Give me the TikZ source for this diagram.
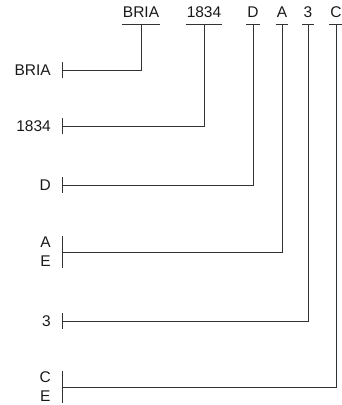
\documentclass[tikz,border=0pt]{standalone}
\usepackage{fontspec}
\setmainfont{Liberation Sans}
\usetikzlibrary{positioning}

\begin{document}
\begin{tikzpicture}[x=1pt, y=-1pt,
    edge/.style={draw=black!80, line width=1pt},
    taxon/.style={font=\fontsize{15.5}{19}\selectfont, inner sep=0pt, text=black!90},
    leaf/.style={taxon, anchor=east, align=center},
]
\useasboundingbox (0,0) rectangle (342,405);
% column heads
\node[taxon, anchor=base] (hBRIA) at (141,17) {BRIA};
\node[taxon, anchor=base] (h1834) at (204,17) {1834};
\node[taxon, anchor=base] (hD) at (253,17) {D};
\node[taxon, anchor=base] (hA) at (282,17) {A};
\node[taxon, anchor=base] (h3) at (308,17) {3};
\node[taxon, anchor=base] (hC) at (336,17) {C};
% row labels
\node[leaf] (lBRIA) at (51,70) {BRIA};
\node[leaf] (l1834) at (51,126) {1834};
\node[leaf] (lD) at (51,185) {D};
\node[leaf] (lA) at (51,252) {A\\E};
\node[leaf] (l3) at (51,321) {3};
\node[leaf] (lC) at (51,387) {C\\E};
% junctions
\coordinate (uBRIA) at (141,24);
\coordinate (u1834) at (204,24);
\coordinate (uD) at (253,24);
\coordinate (uA) at (282,24);
\coordinate (u3) at (308,24);
\coordinate (uC) at (336,24);
\coordinate (tBRIA) at (62,70);
\coordinate (t1834) at (62,126);
\coordinate (tD) at (62,185);
\coordinate (tA) at (62,252);
\coordinate (t3) at (62,321);
\coordinate (tC) at (62,387);
% connectors
\foreach \n/\h in {BRIA/8, 1834/8, D/8, A/16, 3/8, C/16} {
  \draw[edge] ([xshift=-1pt]h\n.base west |- u\n) -- ([xshift=1pt]h\n.base east |- u\n);
  \draw[edge] (u\n) |- (t\n);
  \draw[edge] ([yshift=\h pt]t\n) -- ([yshift=-\h pt]t\n);
}
\end{tikzpicture}
\end{document}
